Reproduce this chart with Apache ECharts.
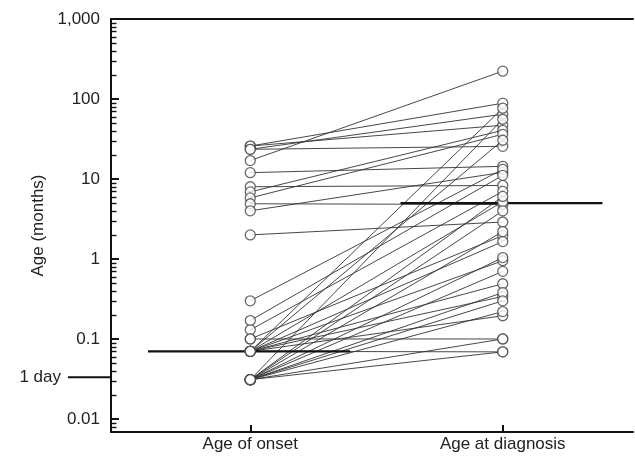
<!DOCTYPE html>
<html>
<head>
<meta charset="utf-8">
<script src="https://cdn.jsdelivr.net/npm/echarts@6/dist/echarts.min.js"></script>
<style>html,body{margin:0;padding:0;background:#fff}#c{width:635px;height:456px}</style>
</head>
<body>
<div id="c"></div>
<script>
const categories = ['Age of onset', 'Age at diagnosis'];
const onset = [25.8, 25.8, 23.5, 23.5, 17, 12, 8, 6.9, 5.8, 4.9, 4.0, 2.0, 0.3, 0.17, 0.13, 0.1, 0.1,
  0.07, 0.07, 0.07, 0.07, 0.07, 0.07, 0.07, 0.07, 0.07,
  0.031, 0.031, 0.031, 0.031, 0.031, 0.031, 0.031, 0.031, 0.031, 0.031, 0.031];
const diagnosis = [47, 88.6, 25.6, 64.5, 223, 14.4, 8.3, 40.6, 36.2, 4.8, 12.1, 2.9, 13.2, 11.1, 7.0, 1.96, 0.1,
  76.7, 30.5, 5.2, 1.65, 0.95, 0.49, 0.34, 0.195, 0.069,
  55.8, 6.05, 4.0, 2.2, 1.04, 0.70, 0.38, 0.30, 0.22, 0.1, 0.069];
const medians = [0.07, 5];
const yTicks = [0.01, 0.1, 1, 10, 100, 1000];
const yTickLabels = ['0.01', '0.1', '1', '10', '100', '1,000'];
const oneDay = 1 / 30;
const oneDayLabel = '1 day';

const minorTicks = [];
[0.001, 0.01, 0.1, 1, 10, 100].forEach(d => { for (let k = 2; k <= 9; k++) { const v = d * k; if (v > 0.007 && v < 1000) minorTicks.push(+v.toPrecision(3)); } });

const FONT = 'Liberation Sans';
const XMIN = 1 - 139 / 252, XMAX = XMIN + 521 / 252;
const YMIN = Math.pow(10, -2 - 13 / 79.8), YMAX = 1000;

const series = [];
onset.forEach((o, i) => {
  series.push({ type: 'line', data: [[1, o], [2, diagnosis[i]]], symbol: 'none', silent: true,
    lineStyle: { color: '#333', width: 0.9 }, z: 2, animation: false });
});
medians.forEach((m, i) => {
  series.push({ type: 'line', data: [[i + 1 - 0.405, m], [i + 1 + 0.395, m]], symbol: 'none',
    lineStyle: { color: '#111', width: 2.2 }, z: 3, animation: false });
});
series.push({ type: 'scatter', data: onset.map(v => [1, v]), symbol: 'circle', symbolSize: 10,
  itemStyle: { color: '#fff', borderColor: '#444', borderWidth: 1.3 }, z: 5, animation: false });
series.push({ type: 'scatter', data: diagnosis.map(v => [2, v]), symbol: 'circle', symbolSize: 10,
  itemStyle: { color: '#fff', borderColor: '#444', borderWidth: 1.3 }, z: 5, animation: false });

const chart = echarts.init(document.getElementById('c'), null, { renderer: 'canvas' });
const axisLineStyle = { color: '#111', width: 2 };
chart.setOption({
  backgroundColor: '#fff',
  animation: false,
  grid: { left: 111, right: 2, top: 19, bottom: 24, containLabel: false },
  xAxis: [{
    type: 'value', min: XMIN, max: XMAX, position: 'bottom',
    axisLine: { show: true, onZero: false, lineStyle: axisLineStyle },
    axisTick: { show: true, inside: true, length: 7, customValues: [1, 2], lineStyle: { color: '#111', width: 2 } },
    axisLabel: { customValues: [1, 2], formatter: v => categories[Math.round(v) - 1], fontFamily: FONT, fontSize: 17, color: '#222', margin: 4 },
    splitLine: { show: false }
  }, {
    type: 'value', min: XMIN, max: XMAX, position: 'top',
    axisLine: { show: true, onZero: false, lineStyle: axisLineStyle },
    axisTick: { show: false }, axisLabel: { show: false }, splitLine: { show: false }
  }],
  yAxis: [{
    type: 'log', logBase: 10, min: YMIN, max: YMAX, position: 'left',
    name: 'Age (months)', nameLocation: 'middle', nameGap: 59, nameRotate: 90,
    nameTextStyle: { fontFamily: FONT, fontSize: 17, color: '#222' },
    axisLine: { show: true, onZero: false, lineStyle: axisLineStyle },
    axisTick: { show: true, inside: true, length: 8, customValues: yTicks, lineStyle: { color: '#111', width: 2 } },
    axisLabel: { customValues: yTicks, formatter: v => { let best = 0; yTicks.forEach((t, i) => { if (Math.abs(Math.log10(t) - Math.log10(v)) < Math.abs(Math.log10(yTicks[best]) - Math.log10(v))) best = i; }); return yTickLabels[best]; },
      fontFamily: FONT, fontSize: 17, color: '#222', margin: 11 },
    splitLine: { show: false }, minorTick: { show: false }
  }],
  series: series
});

// decorations positioned through the axis scales
const yDay = chart.convertToPixel({ yAxisIndex: 0 }, oneDay);
const xAxisPx = chart.convertToPixel({ xAxisIndex: 0 }, XMIN);
const graphics = [
  { type: 'line', shape: { x1: xAxisPx - 43, y1: yDay, x2: xAxisPx, y2: yDay }, style: { stroke: '#111', lineWidth: 2 }, z: 10 },
  { type: 'text', x: xAxisPx - 50, y: yDay, style: { text: oneDayLabel, align: 'right', verticalAlign: 'middle', font: '17px "' + FONT + '"', fill: '#222' }, z: 10 }
];
minorTicks.forEach(v => {
  const py = Math.round(chart.convertToPixel({ yAxisIndex: 0 }, v)) + 0.5;
  graphics.push({ type: 'line', shape: { x1: xAxisPx, y1: py, x2: xAxisPx + 5.5, y2: py }, style: { stroke: '#111', lineWidth: 1.4 }, z: 10 });
});
chart.setOption({ graphic: graphics });
</script>
</body>
</html>
